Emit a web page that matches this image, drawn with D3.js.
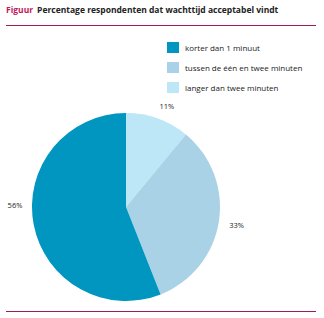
<!DOCTYPE html>
<html>
<head>
<meta charset="utf-8">
<script src="https://cdn.jsdelivr.net/npm/d3@7"></script>
<style>
  body { margin: 0; background: #fff; }
  svg text { font-family: "Open Sans", "Noto Sans", sans-serif; }
</style>
</head>
<body>
<svg id="chart" width="324" height="318"></svg>
<script>
// data
var categories = ['langer dan twee minuten', 'tussen de één en twee minuten', 'korter dan 1 minuut']
var values = [11, 33, 56]
var labels = ['11%', '33%', '56%']
var colors = ['#bde6f7', '#a9d2e6', '#0096c0']
var legendOrder = [2, 1, 0]

var svg = d3.select('#chart')

// title bar
var title = svg.append('text')
  .attr('x', 6)
  .attr('y', 13)
  .style('font-size', '8.5px')
  .style('font-weight', 'bold')
title.append('tspan').attr('fill', '#c2185b').text('Figuur')
title.append('tspan').attr('dx', 4).attr('fill', '#222').text('Percentage respondenten dat wachttijd acceptabel vindt')

svg.append('line')
  .attr('x1', 6).attr('x2', 316)
  .attr('y1', 25.5).attr('y2', 25.5)
  .style('stroke', '#9c1c55')
  .style('stroke-width', 1)

svg.append('line')
  .attr('x1', 6).attr('x2', 316)
  .attr('y1', 311.5).attr('y2', 311.5)
  .style('stroke', '#9c1c55')
  .style('stroke-width', 1)

// pie
var cx = 126, cy = 207, r = 94

var pie = d3.pie().sort(null).value(function (d) { return d })
var arc = d3.arc().innerRadius(0).outerRadius(r)
var arcs = pie(values)

var g = svg.append('g').attr('transform', 'translate(' + cx + ',' + cy + ')')

g.selectAll('path')
  .data(arcs)
  .enter().append('path')
  .attr('d', arc)
  .style('fill', function (d, i) { return colors[i] })
  .style('stroke', 'none')

// label positions, pushed outside the rim
var labelOffsets = [[3, 5], [0, 1], [-1, -22]]
var labelArc = d3.arc().innerRadius(r + 18).outerRadius(r + 18)
g.selectAll('text.lbl')
  .data(arcs)
  .enter().append('text')
  .attr('class', 'lbl')
  .attr('x', function (d, i) { return labelArc.centroid(d)[0] + labelOffsets[i][0] })
  .attr('y', function (d, i) { return labelArc.centroid(d)[1] + labelOffsets[i][1] })
  .attr('text-anchor', 'middle')
  .attr('dominant-baseline', 'middle')
  .style('font-size', '7.5px')
  .style('fill', '#222')
  .text(function (d, i) { return labels[i] })

// legend
var legend = svg.append('g').attr('transform', 'translate(167,42)')
var rows = legend.selectAll('g')
  .data(legendOrder)
  .enter().append('g')
  .attr('transform', function (d, i) { return 'translate(0,' + (i * 20) + ')' })

rows.append('rect')
  .attr('width', 12)
  .attr('height', 11)
  .style('fill', function (d) { return colors[d] })

rows.append('text')
  .attr('x', 18)
  .attr('y', 8.5)
  .style('font-size', '8px')
  .style('fill', '#222')
  .text(function (d) { return categories[d] })
</script>
</body>
</html>
